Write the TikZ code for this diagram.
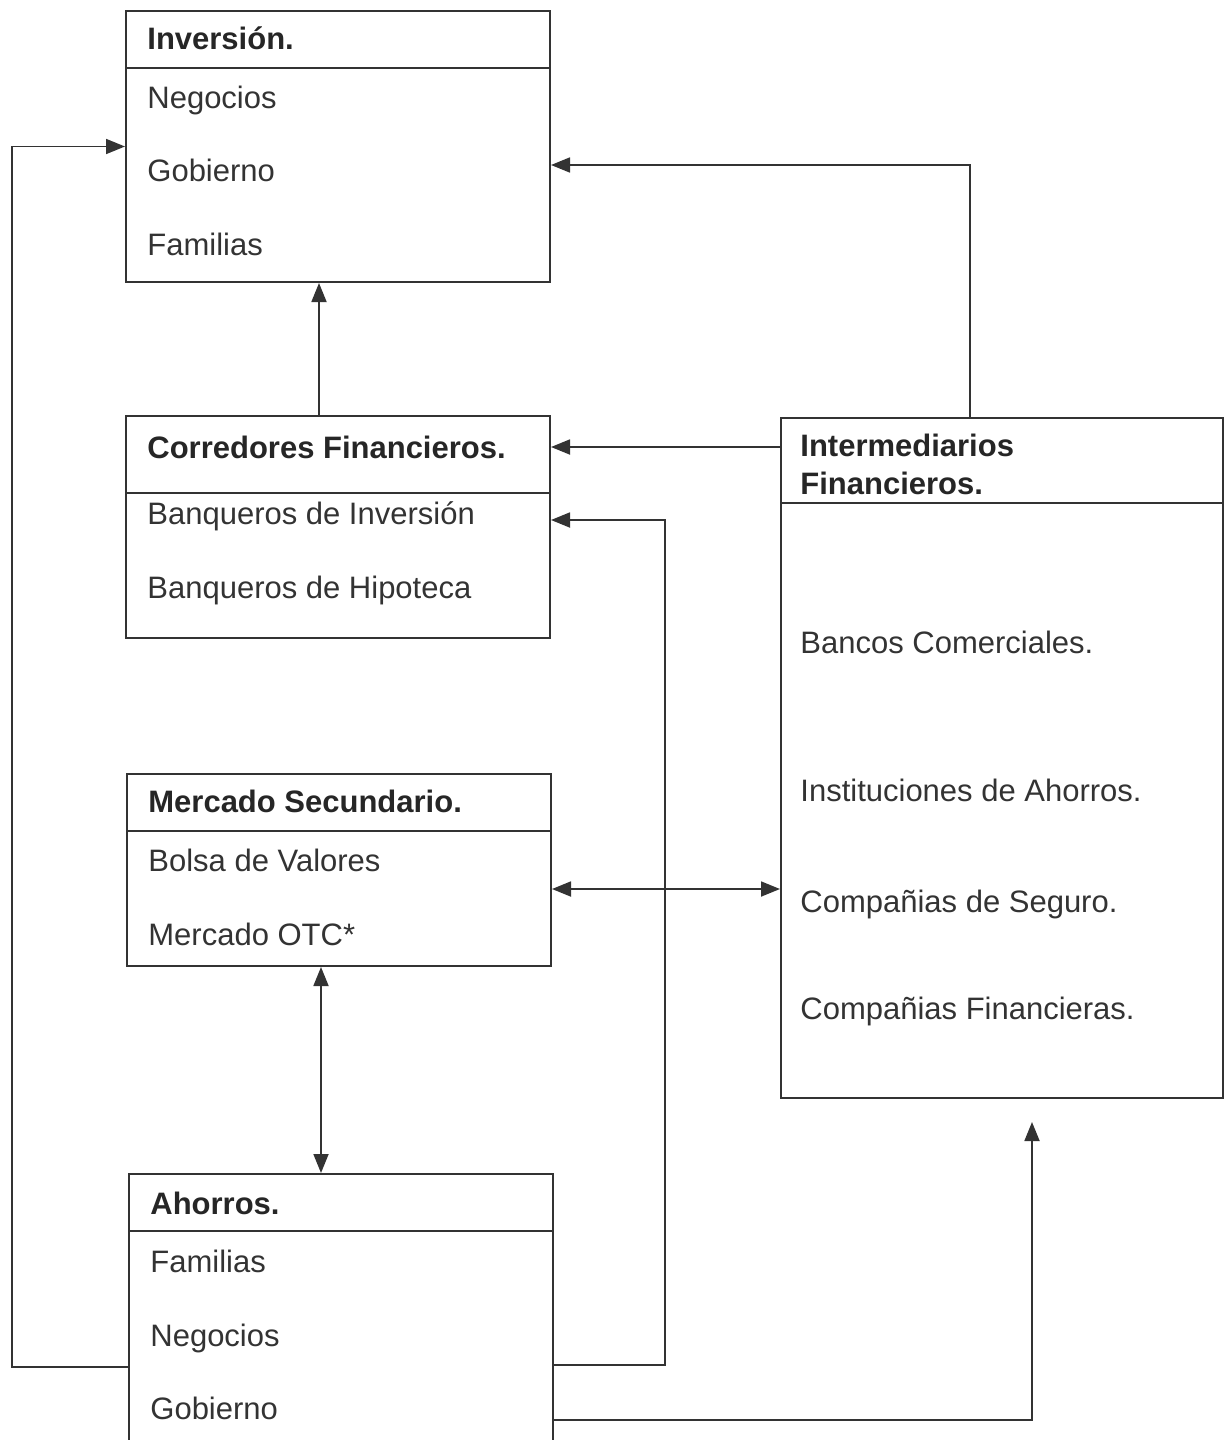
\documentclass[tikz,border=0pt]{standalone}
\usepackage{fontspec}
\setmainfont{Liberation Sans}
\usetikzlibrary{arrows.meta,calc}

\begin{document}
\begin{tikzpicture}[x=0.5pt, y=-0.5pt,
  box/.style={draw=black!80, line width=1pt, anchor=north west, inner sep=0pt},
  div/.style={draw=black!80, line width=1pt},
  hd/.style={anchor=mid west, inner sep=0pt, yshift=-3pt, text=black!85, font=\fontsize{15.5}{19}\selectfont\bfseries},
  itm/.style={anchor=mid west, inner sep=0pt, yshift=-3pt, text=black!80, font=\fontsize{15.5}{19}\selectfont},
  arr/.style={draw=black!80, line width=0.9pt, -{Triangle[length=9.5pt,width=7.5pt]}},
  dbl/.style={draw=black!80, line width=0.9pt, {Triangle[length=9.5pt,width=7.5pt]}-{Triangle[length=9.5pt,width=7.5pt]}}]
\useasboundingbox (0,0) rectangle (1224,1440);

% boxes
\node[box, minimum width=212pt, minimum height=135.5pt] (inv) at (125,10) {};
\draw[div] (inv.west |- 0,68) -- (inv.east |- 0,68);
\node[box, minimum width=212pt, minimum height=111pt] (corr) at (125,415) {};
\draw[div] (corr.west |- 0,493) -- (corr.east |- 0,493);
\node[box, minimum width=221pt, minimum height=340pt] (intF) at (780,417) {};
\draw[div] (intF.west |- 0,503) -- (intF.east |- 0,503);
\node[box, minimum width=212pt, minimum height=96pt] (merc) at (126,773) {};
\draw[div] (merc.west |- 0,831) -- (merc.east |- 0,831);
\node[box, minimum width=212pt, minimum height=138.5pt] (aho) at (128,1173) {};
\draw[div] (aho.west |- 0,1231) -- (aho.east |- 0,1231);

% texts
\node[hd] (invT) at (147,38) {Inversión.};
\node[itm] (inv1) at (147,97) {Negocios};
\node[itm] (inv2) at (147,170) {Gobierno};
\node[itm] (inv3) at (147,244) {Familias};

\node[hd] (corrT) at (147,447) {Corredores Financieros.};
\node[itm] (corr1) at (147,513) {Banqueros de Inversión};
\node[itm] (corr2) at (147,587) {Banqueros de Hipoteca};

\node[hd, anchor=west, align=left] (intT) at (800,458) {Intermediarios\\Financieros.};
\node[itm] (int1) at (800,642) {Bancos Comerciales.};
\node[itm] (int2) at (800,790) {Instituciones de Ahorros.};
\node[itm] (int3) at (800,901) {Compañias de Seguro.};
\node[itm] (int4) at (800,1008) {Compañias Financieras.};

\node[hd] (mercT) at (148,801) {Mercado Secundario.};
\node[itm] (merc1) at (148,860) {Bolsa de Valores};
\node[itm] (merc2) at (148,934) {Mercado OTC*};

\node[hd] (ahoT) at (150,1203) {Ahorros.};
\node[itm] (aho1) at (150,1261) {Familias};
\node[itm] (aho2) at (150,1335) {Negocios};
\node[itm] (aho3) at (150,1408) {Gobierno};

% connectors
\coordinate (lft) at (12,1367);
\coordinate (mid) at (665,1365);
\coordinate (rgt) at (1032,1420);
\coordinate (top) at (970,165);
\coordinate (ret) at (665,520);

\draw[arr] ([xshift=-9.5pt]corr.north) -- ([xshift=-9.5pt]corr.north |- inv.south);
\draw[arr] (intF.west |- 0,447) -- (corr.east |- 0,447);
\draw[arr] (top |- intF.north) -- (top) -- (inv.east |- top);
\draw[arr] (aho.west |- lft) -- (lft) |- (inv.west);
\draw[arr] (aho.east |- mid) -- (mid) -- (ret) -- (corr.east |- ret);
\draw[arr, shorten >=11.5pt] (aho.east |- rgt) -- (rgt) -- (rgt |- intF.south);
\draw[dbl] ([yshift=-9.5pt]merc.east) -- ([yshift=-9.5pt]merc.east -| intF.west);
\draw[dbl] ([xshift=-9pt]merc.south) -- ([xshift=-9pt]merc.south |- aho.north);
\end{tikzpicture}
\end{document}
